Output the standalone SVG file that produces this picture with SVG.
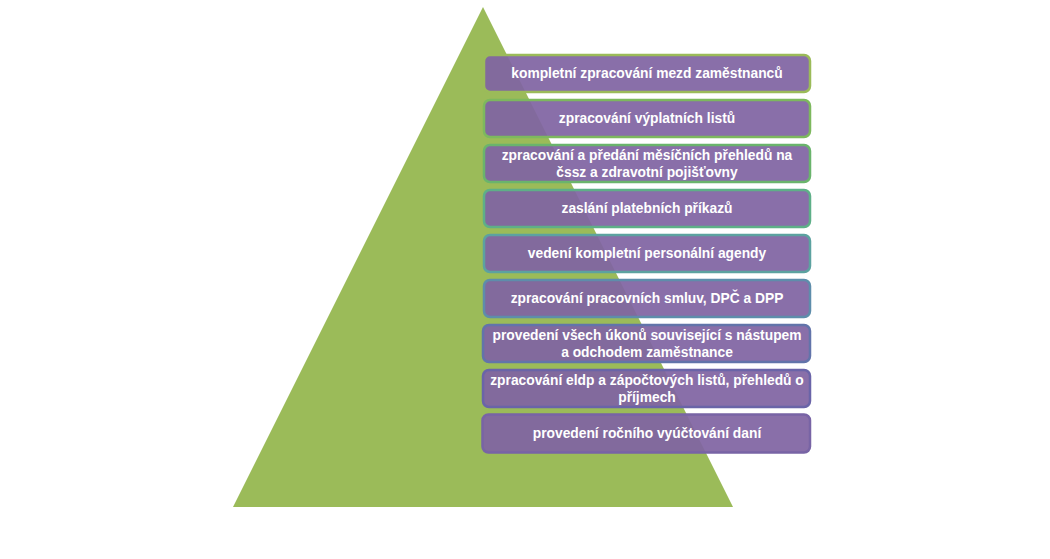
<svg xmlns="http://www.w3.org/2000/svg" width="1050" height="559" viewBox="0 0 1050 559">
<style>
.box{fill:#8064A2;fill-opacity:0.93;stroke-width:2.5}
.t{font-family:"Liberation Sans",Arial,sans-serif;font-weight:bold;font-size:13.8px;fill:#FFFFFF;text-anchor:middle}
</style>
<rect x="0" y="0" width="1050" height="559" fill="#FFFFFF"/>
<g id="pyramid"><polygon points="483,7 733,507 233,507" fill="#9BBB59"/></g>
<g id="connectors"></g>
<g id="n1"><rect class="box" x="484" y="55" width="326" height="37" rx="6" stroke="#9BBB59"/><text class="t" x="647" y="78">kompletní zpracování mezd zaměstnanců</text></g>
<g id="n2"><rect class="box" x="484" y="100" width="326" height="37" rx="6" stroke="#7DB85E"/><text class="t" x="647" y="123">zpracování výplatních listů</text></g>
<g id="n3"><rect class="box" x="484" y="145" width="326" height="37" rx="6" stroke="#6AB46C"/><text class="t" x="647" y="159.5">zpracování a předání měsíčních přehledů na</text><text class="t" x="647" y="177">čssz a zdravotní pojišťovny</text></g>
<g id="n4"><rect class="box" x="484" y="190" width="326" height="37" rx="6" stroke="#5EAF88"/><text class="t" x="647" y="213">zaslání platebních příkazů</text></g>
<g id="n5"><rect class="box" x="484" y="235" width="326" height="37" rx="6" stroke="#5CA2A0"/><text class="t" x="647" y="258">vedení kompletní personální agendy</text></g>
<g id="n6"><rect class="box" x="484" y="280" width="326" height="37" rx="6" stroke="#5E8DAB"/><text class="t" x="647" y="303">zpracování pracovních smluv, DPČ a DPP</text></g>
<g id="n7"><rect class="box" x="483" y="325" width="327" height="37" rx="6" stroke="#6274AA"/><text class="t" x="647" y="339.5">provedení všech úkonů související s nástupem</text><text class="t" x="647" y="357">a odchodem zaměstnance</text></g>
<g id="n8"><rect class="box" x="483" y="370" width="327" height="37" rx="6" stroke="#6A64A8"/><text class="t" x="647" y="384.5">zpracování eldp a zápočtových listů, přehledů o</text><text class="t" x="647" y="402">příjmech</text></g>
<g id="n9"><rect class="box" x="482.5" y="414.5" width="327.5" height="38" rx="6" stroke="#7864A5"/><text class="t" x="647" y="438">provedení ročního vyúčtování daní</text></g>
</svg>
